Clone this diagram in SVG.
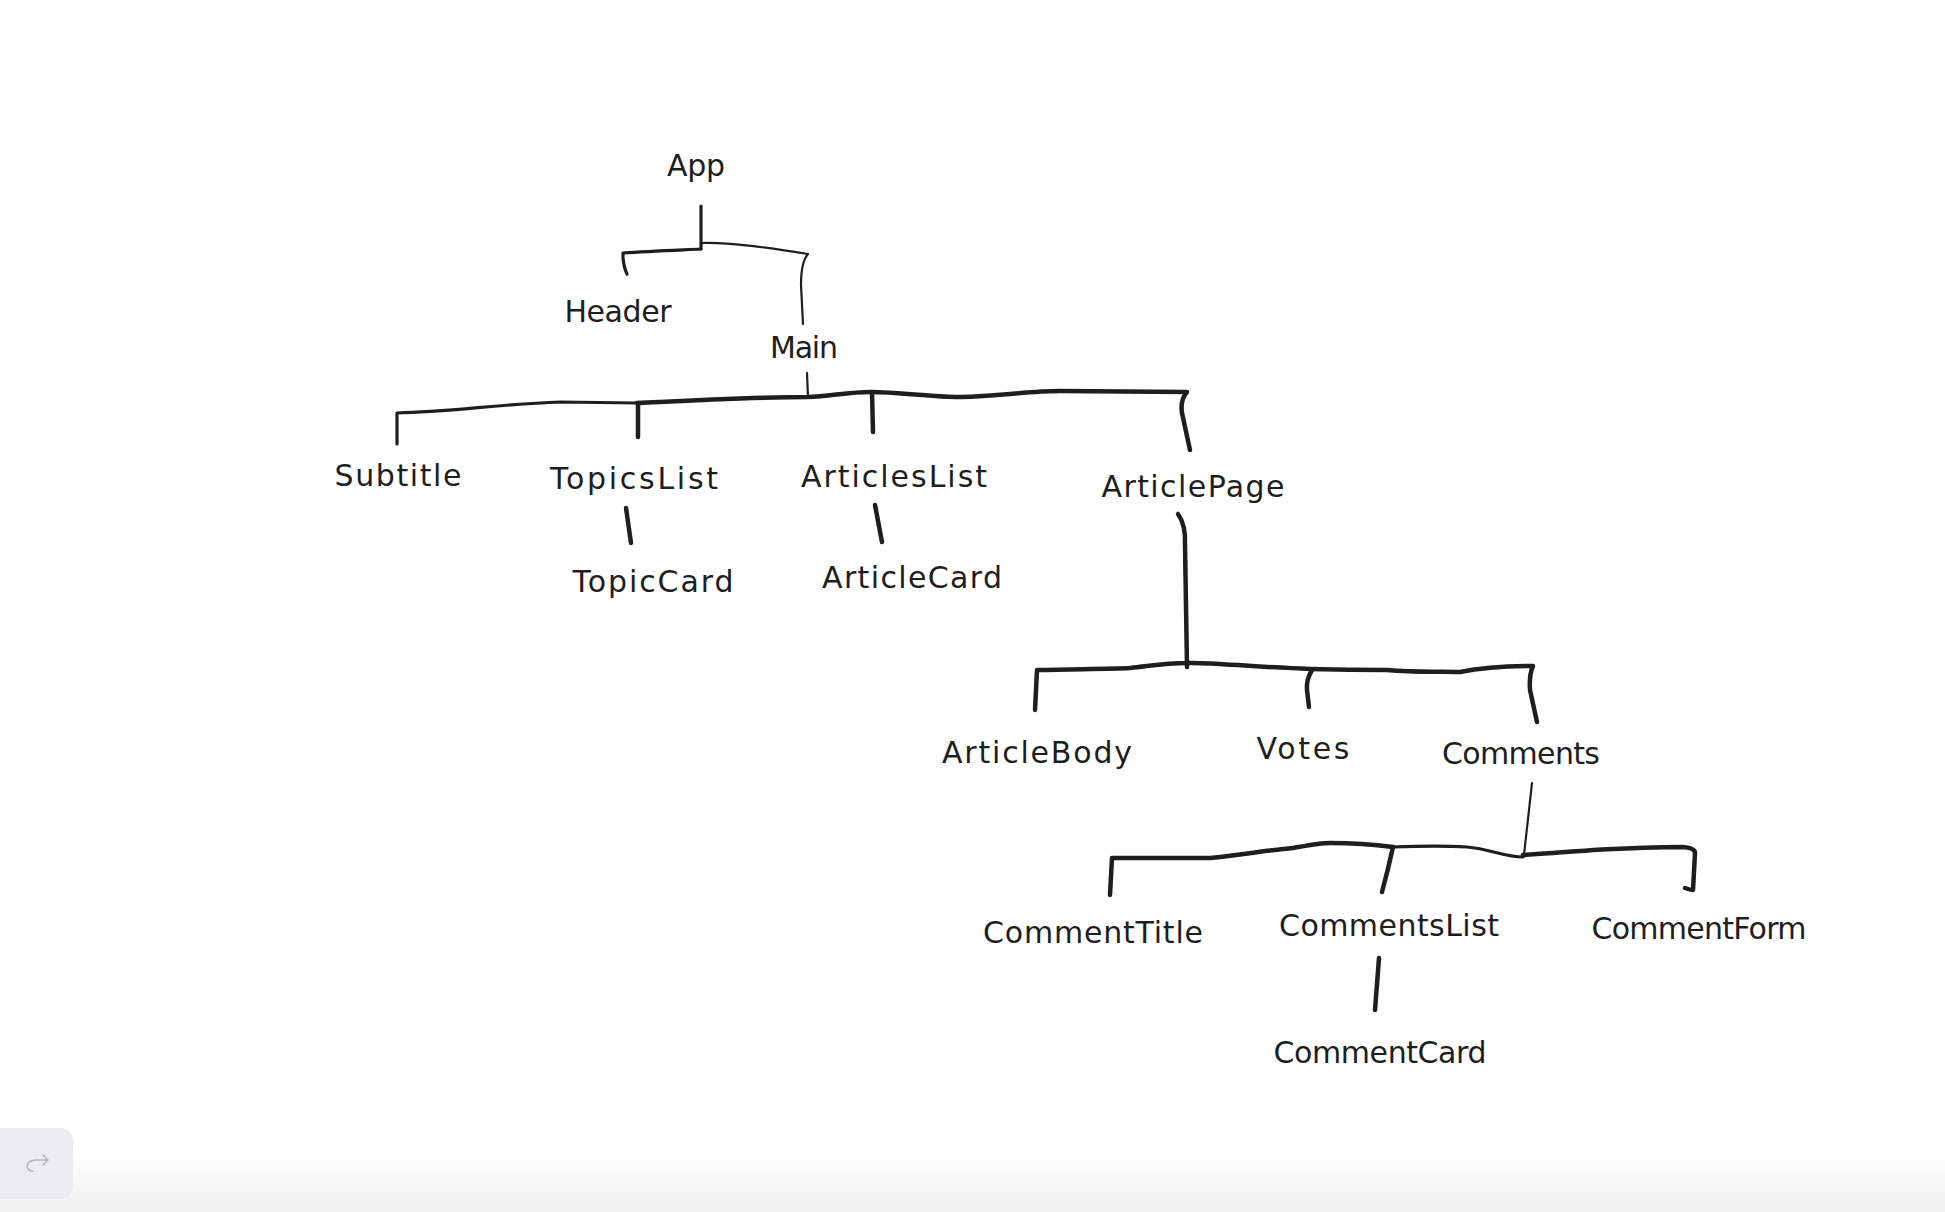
<svg xmlns="http://www.w3.org/2000/svg" width="1945" height="1212" viewBox="0 0 1945 1212">
<defs>
<linearGradient id="bottomFade" x1="0" y1="0" x2="0" y2="1">
<stop offset="0" stop-color="#ffffff"/>
<stop offset="1" stop-color="#f1f1f1"/>
</linearGradient>
<style>
.lbl{font-family:"DejaVu Sans","Liberation Sans",sans-serif;font-size:30px;fill:#1e1e1e;text-anchor:middle}
.thick{fill:none;stroke:#1e1e1e;stroke-width:4.5;stroke-linecap:round;stroke-linejoin:round}
.mid{fill:none;stroke:#1e1e1e;stroke-width:3.2;stroke-linecap:round;stroke-linejoin:round}
.thin{fill:none;stroke:#1e1e1e;stroke-width:2.2;stroke-linecap:round;stroke-linejoin:round}
</style>
</defs>
<rect x="0" y="0" width="1945" height="1212" fill="#ffffff"/>
<rect x="0" y="1150" width="1945" height="62" fill="url(#bottomFade)"/>

<g id="connectors">
<path class="mid" d="M701,206 L701,249"/>
<path class="mid" d="M701,249 C680,250 650,251 623,253 L623,258 Q624,268 627,274"/>
<path class="thin" d="M701,243 C730,242 770,248 808,254 Q801,262 801,285 L803,324"/>
<path class="thin" d="M807,373 L808,397"/>
<path class="mid" d="M397,444 L397,413 C450,412 500,404 560,402 L637,403"/>
<path class="thick" d="M637,403 C700,400 760,397 808,397 C830,396 850,392 870,392 C900,392 930,397 960,397 C1000,396 1030,391 1060,391 L1187,392 Q1180,400 1182,413 L1190,450"/>
<path class="thick" d="M638,403 L638,437"/>
<path class="thick" d="M872,392 L873,432"/>
<path class="thick" d="M626,508 L631,543"/>
<path class="thick" d="M875,505 L882,542"/>
<path class="thick" d="M1178,514 Q1186,525 1185,545 L1187,667"/>
<path class="thick" d="M1035,710 L1037,670 C1080,669 1110,669 1130,668 C1150,666 1165,663 1187,663 C1210,662 1250,667 1310,669 C1350,670 1370,670 1387,670 C1420,673 1440,671 1460,672 C1480,668 1500,666 1533,666 Q1529,675 1530,690 L1537,722"/>
<path class="thick" d="M1312,670 Q1306,680 1307,690 L1309,707"/>
<path class="thin" d="M1532,783 L1524,855"/>
<path class="thick" d="M1110,895 L1112,858 C1150,858 1190,858 1210,858 C1240,855 1270,850 1293,848 C1310,845 1320,843 1330,843 C1350,843 1370,844 1393,847"/>
<path class="mid" d="M1393,847 C1420,846 1450,846 1467,847 C1490,849 1505,857 1523,857"/>
<path class="thick" d="M1523,855 C1550,853 1570,852 1593,850 C1630,848 1660,847 1683,847 Q1695,848 1695,853 L1693,890 Q1690,890 1685,888"/>
<path class="thick" d="M1393,847 Q1388,870 1382,892"/>
<path class="thick" d="M1379,958 L1375,1010"/>
</g>

<g id="node-app"><text class="lbl" x="696" y="176" textLength="58">App</text></g>
<g id="node-header"><text class="lbl" x="618" y="322" textLength="107">Header</text></g>
<g id="node-main"><text class="lbl" x="804" y="358" textLength="68">Main</text></g>
<g id="node-subtitle"><text class="lbl" x="398" y="486" textLength="127">Subtitle</text></g>
<g id="node-topicslist"><text class="lbl" x="634" y="489" textLength="168">TopicsList</text></g>
<g id="node-articleslist"><text class="lbl" x="894" y="487" textLength="186">ArticlesList</text></g>
<g id="node-articlepage"><text class="lbl" x="1193" y="497" textLength="183">ArticlePage</text></g>
<g id="node-topiccard"><text class="lbl" x="653" y="592" textLength="161">TopicCard</text></g>
<g id="node-articlecard"><text class="lbl" x="912" y="588" textLength="180">ArticleCard</text></g>
<g id="node-articlebody"><text class="lbl" x="1037" y="763" textLength="190">ArticleBody</text></g>
<g id="node-votes"><text class="lbl" x="1303" y="759" textLength="93">Votes</text></g>
<g id="node-comments"><text class="lbl" x="1521" y="764" textLength="158">Comments</text></g>
<g id="node-commenttitle"><text class="lbl" x="1093" y="943" textLength="220">CommentTitle</text></g>
<g id="node-commentslist"><text class="lbl" x="1389" y="936" textLength="220">CommentsList</text></g>
<g id="node-commentform"><text class="lbl" x="1699" y="939" textLength="215">CommentForm</text></g>
<g id="node-commentcard"><text class="lbl" x="1380" y="1063" textLength="213">CommentCard</text></g>

<g id="redo-button">
<rect x="-14" y="1128" width="87" height="71" rx="13" fill="#ebebf1"/>
<path d="M48,1160 L36,1160 C30,1160 27,1163 27,1166 C27,1169 30,1171 33,1171 M43,1155 L48,1160 L43,1165" fill="none" stroke="#b4b4b8" stroke-width="1.6" stroke-linecap="round" stroke-linejoin="round"/>
</g>
</svg>
